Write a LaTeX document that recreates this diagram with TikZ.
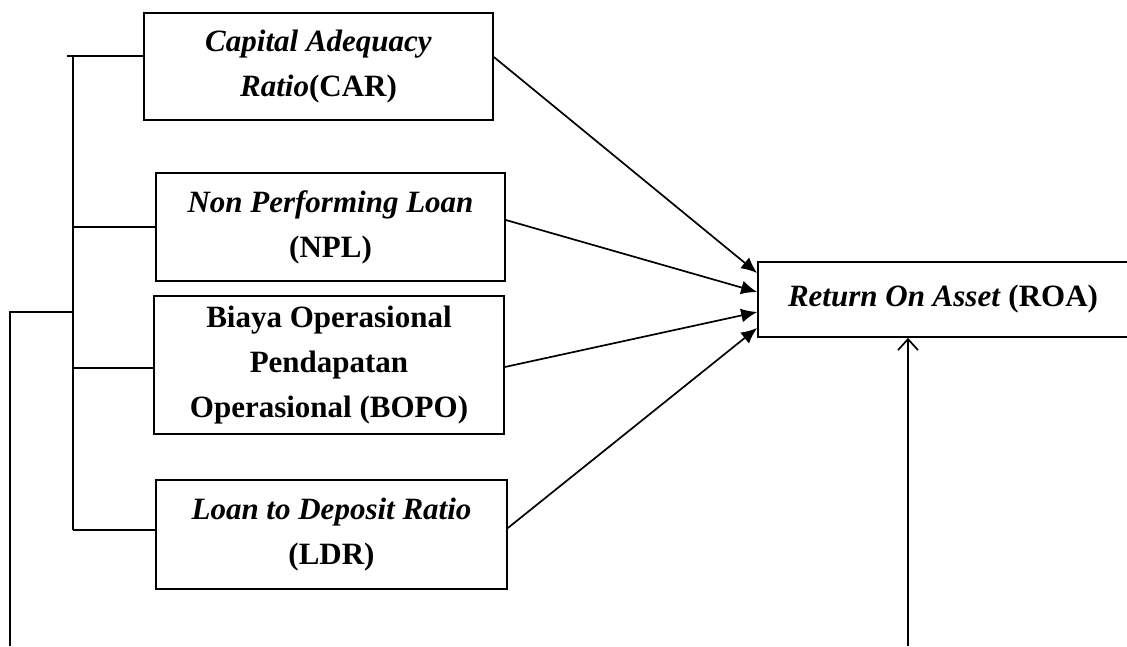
\documentclass[tikz,border=0pt]{standalone}
\usepackage{fontspec}
\setmainfont{Liberation Serif}
\usetikzlibrary{arrows.meta}

\begin{document}
\begin{tikzpicture}[x=1pt, y=-1pt, line width=1.7pt,
    box/.style={draw, align=center, inner sep=0pt, font=\fontsize{31}{45}\selectfont\bfseries},
    arr/.style={-{Latex[length=16pt, width=14pt]}},
    up/.style={-{Straight Barb[length=11pt, width=20pt]}}]
    \useasboundingbox (0,0) rectangle (1127,646);
    \node[box, minimum width=349pt, minimum height=107pt] (CAR) at (318.5,66.5) {\textit{Capital Adequacy}\\\textit{Ratio}(CAR)};
    \node[box, minimum width=349pt, minimum height=108pt] (NPL) at (330.5,227) {\textit{Non Performing Loan}\\(NPL)};
    \node[box, minimum width=350pt, minimum height=138pt] (BOPO) at (329,365) {Biaya Operasional\\Pendapatan\\Operasional (BOPO)};
    \node[box, minimum width=351pt, minimum height=109pt] (LDR) at (331.5,534.5) {\textit{Loan to Deposit Ratio}\\(LDR)};
    \node[box, minimum width=370pt, minimum height=75pt] (ROA) at (943,299.5) {\textit{Return On Asset} (ROA)};
    % bracket on the left
    \coordinate (sp) at (73,0);
    \coordinate (bt) at (67,56);
    \coordinate (lf) at (10,312);
    \coordinate (lb) at (10,646);
    \coordinate (rb) at (908,646);
    \draw (bt) -- (bt -| CAR.west);
    \draw (bt -| sp) -- ([yshift=4.5pt]LDR.west -| sp);
    \draw (NPL.west -| sp) -- (NPL.west);
    \draw ([yshift=-3pt]BOPO.west -| sp) -- ([yshift=-3pt]BOPO.west);
    \draw ([yshift=4.5pt]LDR.west -| sp) -- ([yshift=4.5pt]LDR.west);
    \draw (lb) -- (lf) -- (lf -| sp);
    % arrows into ROA
    \path[arr] ([yshift=9.5pt]CAR.east) edge ([yshift=26.5pt]ROA.west);
    \path[arr] ([yshift=7pt]NPL.east) edge ([yshift=7.5pt]ROA.west);
    \path[arr] ([yshift=-2pt]BOPO.east) edge ([yshift=-12.5pt]ROA.west);
    \path[arr] ([yshift=6.5pt]LDR.east) edge ([yshift=-28.5pt]ROA.west);
    \path[up] (rb) edge (rb |- ROA.south);
\end{tikzpicture}
\end{document}
